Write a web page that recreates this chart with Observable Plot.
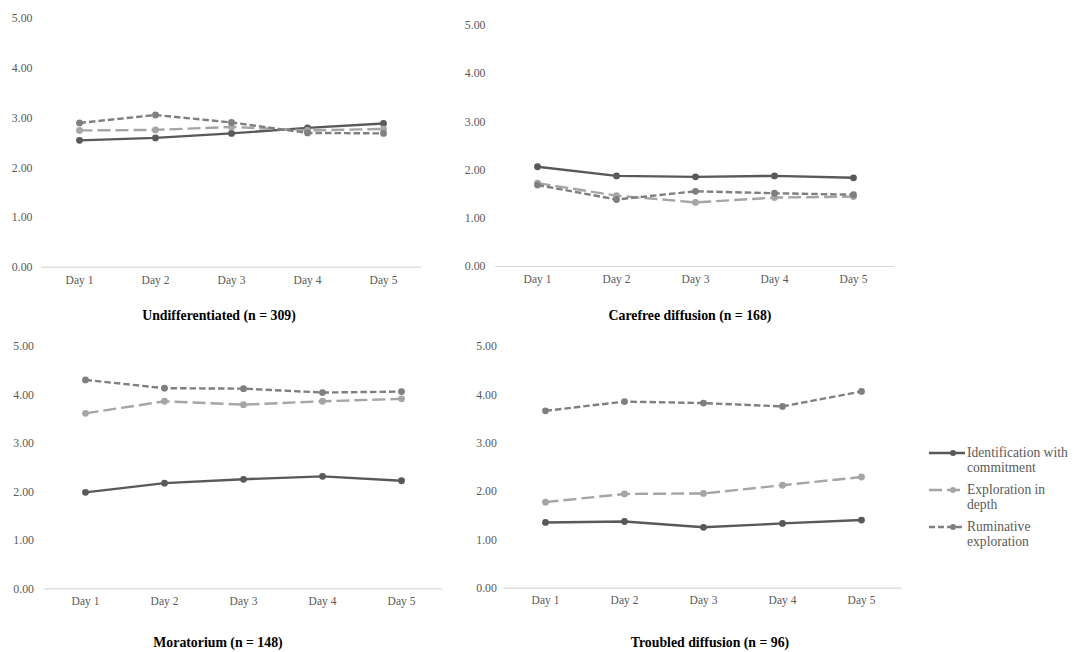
<!DOCTYPE html>
<html>
<head>
<meta charset="utf-8">
<script src="https://cdn.jsdelivr.net/npm/d3@7"></script>
<script src="https://cdn.jsdelivr.net/npm/@observablehq/plot@0.6"></script>
<style>
  html, body { margin: 0; padding: 0; background: #fff; }
  #root { position: relative; width: 1074px; height: 652px; overflow: hidden; font-family: "Liberation Serif", "Times New Roman", serif; }
  .panel { position: absolute; }
  .title { position: absolute; font-weight: bold; font-size: 13.8px; color: #000; transform: translate(-50%, -50%); white-space: nowrap; }
  .legend { position: absolute; left: 929px; top: 445px; font-size: 13.6px; color: #595959; line-height: 15px; }
  .legend .item { display: flex; align-items: flex-start; margin-bottom: 7px; }
  .legend svg { flex: none; margin-top: 1px; }
  .legend span { margin-left: 2px; width: 110px; }
</style>
</head>
<body>
<div id="root"></div>
<script>
// ---- data ----
const days = ["Day 1", "Day 2", "Day 3", "Day 4", "Day 5"];
const seriesNames = ["Identification with commitment", "Exploration in depth", "Ruminative exploration"];
const panelTitles = ["Undifferentiated (n = 309)", "Carefree diffusion (n = 168)", "Moratorium (n = 148)", "Troubled diffusion (n = 96)"];
const yTicks = [0, 1, 2, 3, 4, 5];

// values per panel: [identification, exploration, ruminative]
const undifferentiatedIdentification = [2.55, 2.60, 2.69, 2.80, 2.89];
const undifferentiatedExploration    = [2.75, 2.76, 2.82, 2.75, 2.78];
const undifferentiatedRuminative     = [2.90, 3.06, 2.91, 2.70, 2.69];

const carefreeIdentification = [2.07, 1.88, 1.86, 1.88, 1.84];
const carefreeExploration    = [1.73, 1.47, 1.33, 1.43, 1.45];
const carefreeRuminative     = [1.69, 1.39, 1.56, 1.52, 1.49];

const moratoriumIdentification = [1.99, 2.18, 2.26, 2.32, 2.23];
const moratoriumExploration    = [3.62, 3.87, 3.80, 3.87, 3.92];
const moratoriumRuminative     = [4.31, 4.14, 4.13, 4.05, 4.07];

const troubledIdentification = [1.36, 1.38, 1.26, 1.34, 1.41];
const troubledExploration    = [1.78, 1.95, 1.96, 2.13, 2.30];
const troubledRuminative     = [3.67, 3.86, 3.83, 3.76, 4.07];

const panelValues = [
  [undifferentiatedIdentification, undifferentiatedExploration, undifferentiatedRuminative],
  [carefreeIdentification, carefreeExploration, carefreeRuminative],
  [moratoriumIdentification, moratoriumExploration, moratoriumRuminative],
  [troubledIdentification, troubledExploration, troubledRuminative]
];

// ---- styles ----
const seriesColors = ["#595959", "#a5a5a5", "#7f7f7f"];
const seriesDash = [null, "13,5", "6.5,3"];

// ---- layout (px) ----
const layout = [
  {left: 0,   top: 0,   width: 440, height: 300, mL: 41, mR: 19, mT: 18, mB: 33.3, yPad: 9,  xPad: 9, tx: 219, ty: 316},
  {left: 440, top: 0,   width: 460, height: 300, mL: 55, mR: 6,  mT: 25, mB: 34,   yPad: 10, xPad: 8,  tx: 690, ty: 316},
  {left: 0,   top: 330, width: 460, height: 300, mL: 43.5, mR: 18, mT: 16, mB: 41.7, yPad: 10, xPad: 8, tx: 218, ty: 643},
  {left: 440, top: 330, width: 470, height: 300, mL: 63.4, mR: 8, mT: 16, mB: 42.3, yPad: 7, xPad: 8, tx: 710, ty: 643}
];

const root = document.getElementById("root");

panelValues.forEach((vals, p) => {
  const L = layout[p];
  const rows = [];
  vals.forEach((arr, s) => arr.forEach((v, i) => rows.push({day: days[i], value: v, series: seriesNames[s]})));
  const marks = [
    Plot.ruleY([0], {stroke: "#d9d9d9", strokeWidth: 1.2}),
    Plot.axisY({ticks: yTicks, tickFormat: d => d.toFixed(2), tickSize: 0, tickPadding: L.yPad, label: null, fill: "#595959", fontSize: 11.8}),
    Plot.axisX({tickSize: 0, tickPadding: L.xPad, label: null, fill: "#595959", fontSize: 11.5})
  ];
  seriesNames.forEach((name, s) => {
    const data = rows.filter(r => r.series === name);
    marks.push(Plot.line(data, {x: "day", y: "value", stroke: seriesColors[s], strokeWidth: 2.4, strokeDasharray: seriesDash[s], strokeLinecap: "butt", strokeLinejoin: "round"}));
    marks.push(Plot.dot(data, {x: "day", y: "value", r: 3.4, fill: seriesColors[s], stroke: "none"}));
  });
  const chart = Plot.plot({
    width: L.width, height: L.height,
    marginLeft: L.mL, marginRight: L.mR, marginTop: L.mT, marginBottom: L.mB,
    style: {fontFamily: '"Liberation Serif", "Times New Roman", serif', background: "transparent", overflow: "visible"},
    x: {type: "point", domain: days, padding: 0.5},
    y: {domain: [0, 5]},
    marks
  });
  chart.classList.add("panel");
  chart.style.left = L.left + "px";
  chart.style.top = L.top + "px";
  root.appendChild(chart);

  const t = document.createElement("div");
  t.className = "title";
  t.textContent = panelTitles[p];
  t.style.left = L.tx + "px";
  t.style.top = L.ty + "px";
  root.appendChild(t);
});

// ---- legend ----
const legend = document.createElement("div");
legend.className = "legend";
seriesNames.forEach((name, s) => {
  const item = document.createElement("div");
  item.className = "item";
  const svg = d3.create("svg").attr("width", 36).attr("height", 14);
  svg.append("line").attr("x1", 0).attr("x2", 36).attr("y1", 7).attr("y2", 7)
    .attr("stroke", seriesColors[s]).attr("stroke-width", 2.4)
    .attr("stroke-dasharray", s === 0 ? null : (s === 1 ? "13,5" : "6,3"));
  svg.append("circle").attr("cx", 24).attr("cy", 7).attr("r", 3).attr("fill", seriesColors[s]);
  item.appendChild(svg.node());
  const span = document.createElement("span");
  span.textContent = name;
  item.appendChild(span);
  legend.appendChild(item);
});
root.appendChild(legend);
</script>
</body>
</html>
